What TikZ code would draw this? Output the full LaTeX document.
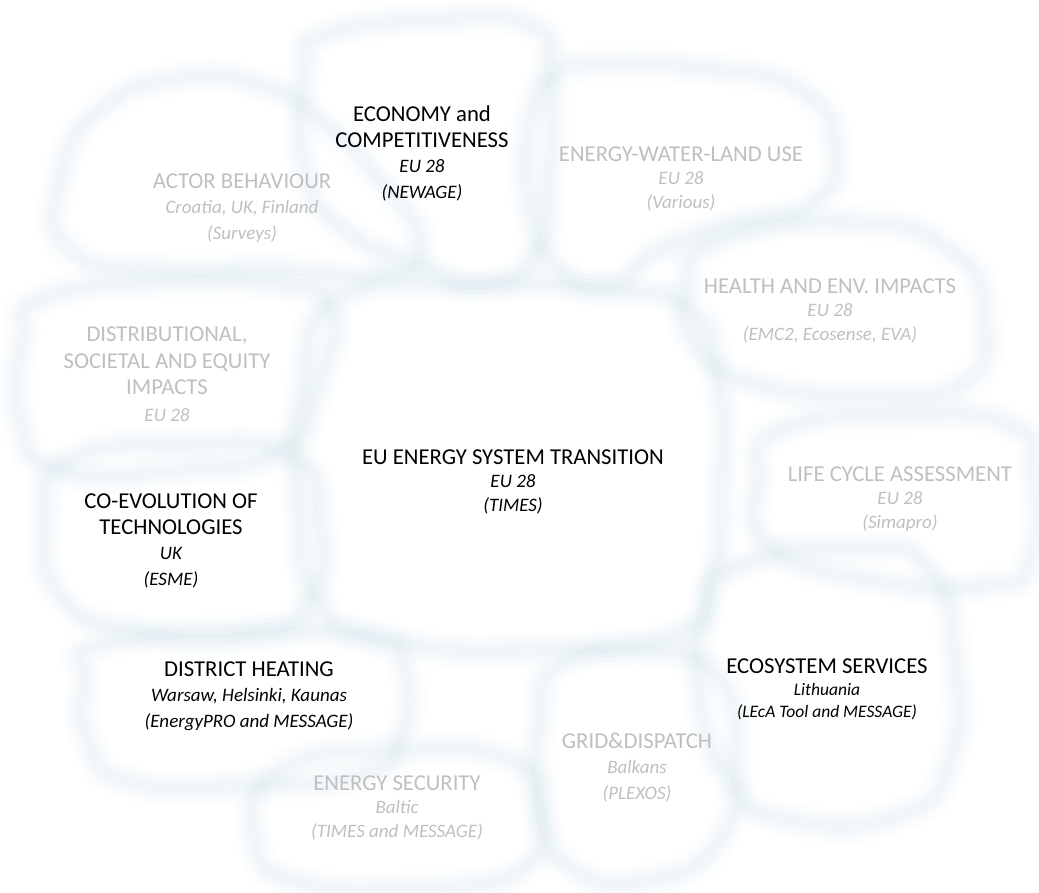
\documentclass[tikz,border=0pt]{standalone}
\usepackage{fontspec}
\setmainfont{Carlito}

\definecolor{blobblue}{RGB}{205,225,233}
\definecolor{lightgrey}{RGB}{191,191,191}

\tikzset{
	theme/.style = {anchor = base, align = center, font = \fontsize{22.7}{25.5}\selectfont},
	tight/.style = {font = \fontsize{22.7}{23.5}\selectfont},
	faded/.style = {theme, text = lightgrey},
	blobline/.style = {draw = blobblue, line join = round}
}

\newcommand{\subline}[1]{{\fontsize{19}{23}\selectfont\itshape #1}}

\begin{document}
\begin{tikzpicture}[x = 1pt, y = -1pt]

	\useasboundingbox (0, 0) rectangle (1039, 892);

	% Soft glow of one blob: the same outline stroked several times
	
	\def\Blob#1{
		\foreach \w/\o in {36/0.05, 27/0.07, 18/0.09, 10/0.11}
			\draw [blobline, line width = \w pt, draw opacity = \o]
				plot [smooth cycle, tension = 0.9] coordinates {#1};
	}
	
	% The blobs
	
	\Blob{(325,35) (430,20) (530,25) (550,80) (548,180) (535,255) (480,285) (420,265) (345,230) (305,170) (305,70)}
	\Blob{(60,180) (100,110) (180,78) (260,85) (320,120) (380,180) (420,245) (380,275) (280,270) (160,270) (70,250)}
	\Blob{(590,65) (700,68) (800,90) (835,150) (810,205) (730,225) (660,250) (610,285) (560,270) (530,210) (530,120) (555,75)}
	\Blob{(720,240) (850,222) (950,250) (985,320) (960,385) (860,395) (760,385) (700,350) (685,290)}
	\Blob{(40,300) (150,282) (280,285) (330,310) (320,380) (280,450) (180,470) (60,470) (20,420) (22,340)}
	\Blob{(340,298) (480,285) (610,290) (690,310) (718,380) (722,480) (712,580) (672,635) (530,650) (390,640) (318,600) (298,500) (302,390)}
	\Blob{(780,430) (900,415) (1010,425) (1035,480) (1030,560) (990,585) (870,580) (770,545) (758,480)}
	\Blob{(70,460) (180,445) (290,455) (320,520) (310,600) (250,635) (130,630) (60,595) (45,520)}
	\Blob{(100,645) (250,632) (370,638) (405,670) (400,740) (360,775) (250,785) (130,782) (88,740) (85,680)}
	\Blob{(280,770) (400,750) (510,760) (540,810) (520,870) (420,888) (300,882) (255,840)}
	\Blob{(560,665) (650,650) (720,680) (735,760) (720,840) (650,880) (575,870) (540,810) (540,720)}
	\Blob{(740,565) (860,548) (930,570) (955,660) (950,760) (900,815) (790,820) (730,780) (700,700) (705,610)}
	
	% Black themes
	
	\node [theme] (economy) at (422, 198) {ECONOMY and\\COMPETITIVENESS\\\subline{EU 28}\\\subline{(NEWAGE)}};
	\node [theme, tight] (transition) at (513, 511) {EU ENERGY SYSTEM TRANSITION\\\subline{EU 28}\\\subline{(TIMES)}};
	\node [theme] (coevolution) at (171, 585) {CO-EVOLUTION OF\\TECHNOLOGIES\\\subline{UK}\\\subline{(ESME)}};
	\node [theme] (heating) at (249, 727) {DISTRICT HEATING\\\subline{Warsaw, Helsinki, Kaunas}\\\subline{(EnergyPRO and MESSAGE)}};
	\node [theme, font = \fontsize{22.7}{22}\selectfont] (ecosystem) at (827, 717) {ECOSYSTEM SERVICES\\{\fontsize{17.5}{22}\selectfont\itshape Lithuania}\\{\fontsize{17.5}{22}\selectfont\itshape (LEcA Tool and MESSAGE)}};
	
	% Grey themes
	
	\node [faded] (actor) at (242, 239) {ACTOR BEHAVIOUR\\\subline{Croatia, UK, Finland}\\\subline{(Surveys)}};
	\node [faded, tight] (nexus) at (681, 208) {ENERGY-WATER-LAND USE\\\subline{EU 28}\\\subline{(Various)}};
	\node [faded, tight] (health) at (830, 340) {HEALTH AND ENV. IMPACTS\\\subline{EU 28}\\\subline{(EMC2, Ecosense, EVA)}};
	\node [faded, font = \fontsize{22.7}{26.5}\selectfont] (equity) at (167, 421) {DISTRIBUTIONAL,\\SOCIETAL AND EQUITY\\IMPACTS\\\subline{EU 28}};
	\node [faded, tight] (lca) at (900, 528) {LIFE CYCLE ASSESSMENT\\\subline{EU 28}\\\subline{(Simapro)}};
	\node [faded, tight] (security) at (397, 837) {ENERGY SECURITY\\\subline{Baltic}\\\subline{(TIMES and MESSAGE)}};
	\node [faded] (grid) at (637, 799) {GRID\&DISPATCH\\\subline{Balkans}\\\subline{(PLEXOS)}};

\end{tikzpicture}
\end{document}
